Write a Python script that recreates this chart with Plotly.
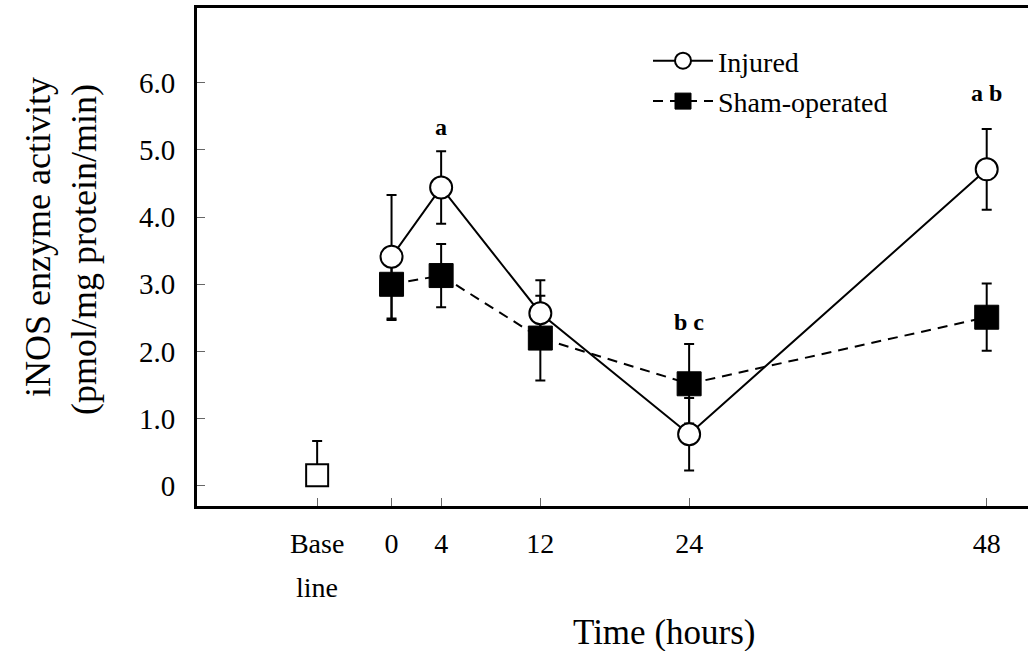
import plotly.graph_objects as go

# ---- data ----
hours = [0, 4, 12, 24, 48]
injured = [3.41, 4.44, 2.57, 0.77, 4.71]
injured_err = [0.92, 0.54, 0.49, 0.54, 0.60]
sham = [3.00, 3.13, 2.20, 1.52, 2.51]
sham_err = [0.53, 0.47, 0.63, 0.59, 0.50]
baseline_x = [-6]
baseline_y = [0.16]
baseline_err = [0.51]

x_tickvals = [-6, 0, 4, 12, 24, 48]
x_ticktext = ["Base", "0", "4", "12", "24", "48"]
y_tickvals = [0, 1, 2, 3, 4, 5, 6]
y_ticktext = ["0", "1.0", "2.0", "3.0", "4.0", "5.0", "6.0"]

sig_x = [4, 24, 48]
sig_y = [5.34, 2.44, 5.84]
sig_text = ["a", "b c", "a b"]

SERIF = "Liberation Serif"
L, R, T, B = 197, 0, 8, 145
W, H = 1028, 651
pw, ph = W - L - R, H - T - B


def px_x(p):
    return (p - L) / pw


def px_y(p):
    return (H - B - p) / ph


fig = go.Figure()

fig.add_trace(go.Scatter(
    x=hours, y=sham, name="Sham-operated", mode="lines+markers",
    line=dict(color="black", width=2, dash="10px,7px"),
    marker=dict(symbol="square", size=24, color="black",
                line=dict(color="black", width=1)),
    error_y=dict(type="data", array=sham_err, color="black",
                 thickness=2, width=5),
    legendgroup="s", legendrank=2,
))

fig.add_trace(go.Scatter(
    x=hours, y=injured, name="Injured", mode="lines+markers",
    line=dict(color="black", width=2),
    marker=dict(symbol="circle", size=22, color="white",
                line=dict(color="black", width=2)),
    error_y=dict(type="data", array=injured_err, color="black",
                 thickness=2, width=5),
    legendgroup="i", legendrank=1,
))

fig.add_trace(go.Scatter(
    x=baseline_x, y=baseline_y, mode="markers", showlegend=False,
    marker=dict(symbol="square", size=22, color="white",
                line=dict(color="black", width=2)),
    error_y=dict(type="data", array=baseline_err, arrayminus=[0],
                 symmetric=False, color="black", thickness=2, width=5),
))

for sx, sy, st in zip(sig_x, sig_y, sig_text):
    fig.add_annotation(x=sx, y=sy, text="<b>" + st + "</b>", showarrow=False,
                       xanchor="center", yanchor="middle",
                       font=dict(family=SERIF, size=24, color="black"))

# second line of "Base line" tick label
fig.add_annotation(x=-6, y=px_y(587), yref="paper", text="line", showarrow=False,
                   xanchor="center", yanchor="middle",
                   font=dict(family=SERIF, size=28, color="black"))
# x axis title
fig.add_annotation(x=px_x(663.5), y=px_y(632), xref="paper", yref="paper",
                   text="Time (hours)", showarrow=False,
                   xanchor="center", yanchor="middle",
                   font=dict(family=SERIF, size=35, color="black"))
# y axis title (two lines)
fig.add_annotation(x=px_x(38), y=px_y(237), xref="paper", yref="paper",
                   text="iNOS enzyme activity", showarrow=False, textangle=-90,
                   xanchor="center", yanchor="middle",
                   font=dict(family=SERIF, size=36, color="black"))
fig.add_annotation(x=px_x(84), y=px_y(250), xref="paper", yref="paper",
                   text="(pmol/mg protein/min)", showarrow=False, textangle=-90,
                   xanchor="center", yanchor="middle",
                   font=dict(family=SERIF, size=36, color="black"))

fig.update_layout(
    width=W, height=H,
    margin=dict(l=L, r=R, t=T, b=B),
    paper_bgcolor="white", plot_bgcolor="white",
    font=dict(family=SERIF, color="black"),
    showlegend=True,
    legend=dict(x=px_x(648), y=px_y(36), xanchor="left", yanchor="top",
                font=dict(family=SERIF, size=28, color="black"),
                bgcolor="rgba(0,0,0,0)", tracegroupgap=1, itemwidth=60,
                traceorder="grouped"),
    xaxis=dict(range=[-15.69, 51.33], tickmode="array", tickvals=x_tickvals,
               ticktext=x_ticktext, ticks="inside", ticklen=8, tickwidth=1,
               tickcolor="#666", showline=True, linecolor="black", linewidth=3,
               mirror=True, showgrid=False, zeroline=False,
               tickfont=dict(family=SERIF, size=28, color="black"),
               ticklabelstandoff=10),
    yaxis=dict(range=[-0.298, 7.11], tickmode="array", tickvals=y_tickvals,
               ticktext=y_ticktext, ticks="inside", ticklen=8, tickwidth=1,
               tickcolor="#666", showline=True, linecolor="black", linewidth=3,
               showgrid=False, zeroline=False,
               tickfont=dict(family=SERIF, size=29, color="black"),
               ticklabelstandoff=13),
)

fig.write_html("out.html")
